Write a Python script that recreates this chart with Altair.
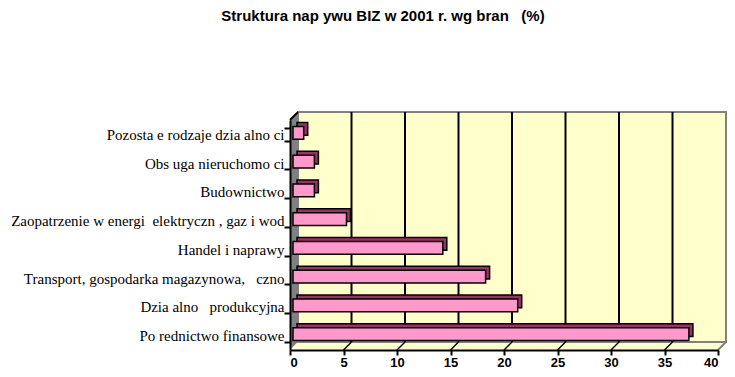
import altair as alt
import pandas as pd

NB = "\u00a0"
title_text = f"Struktura nap{NB}ywu BIZ w 2001 r. wg bran{NB}{NB}{NB}(%)"
categories = [
    f"Pozosta{NB}e rodzaje dzia{NB}alno{NB}ci",
    f"Obs{NB}uga nieruchomo{NB}ci",
    "Budownictwo",
    f"Zaopatrzenie w energi{NB}{NB}elektryczn{NB}, gaz i wod",
    "Handel i naprawy",
    f"Transport, gospodarka magazynowa,{NB}{NB}{NB}czno{NB}{NB}",
    f"Dzia{NB}alno{NB}{NB}{NB}produkcyjna",
    f"Po{NB}rednictwo finansowe",
]
values = [1, 2, 2, 5, 14, 18, 21, 37]
x_ticks = [0, 5, 10, 15, 20, 25, 30, 35, 40]
grid_values = [5, 10, 15, 20, 25, 30, 35]

# geometry of the pseudo-3D box (pixels)
W, H = 428, 230
DX, DY = 8, -8
BDX, BDY = 4, -4
FX, FY = 3, -1.5

bars_df = pd.DataFrame({"cat": categories, "val": values})
grid_df = pd.DataFrame({"v": grid_values})
edge_df = pd.DataFrame({"v": [40]})
one = pd.DataFrame({"a": [0]})

xscale = alt.Scale(domain=[0, 40], nice=False, zero=True)
yscale = alt.Scale(domain=categories, paddingInner=0.56, paddingOuter=0.28)

side_df = pd.DataFrame({"px": [0, DX], "top": [0, DY], "bot": [H, H + DY]})
side = alt.Chart(side_df).mark_area(color="#808080").encode(
    x=alt.X("px:Q", scale=None, axis=None),
    y=alt.Y("top:Q", scale=None, axis=None),
    y2="bot:Q",
)

floor_df = pd.DataFrame({"py": [H + DY, H], "xl": [DX, 0], "xr": [W + DX, W]})
floor = alt.Chart(floor_df).mark_area(color="#FFFFCC", orient="horizontal").encode(
    y=alt.Y("py:Q", scale=None, axis=None),
    x=alt.X("xl:Q", scale=None, axis=None),
    x2="xr:Q",
)

back = alt.Chart(one).mark_rect(fill="#FFFFCC", stroke="#808080", strokeWidth=2).encode(
    x=alt.value(DX), x2=alt.value(W + DX), y=alt.value(DY), y2=alt.value(H + DY)
)

grid = alt.Chart(grid_df).mark_rule(color="black", strokeWidth=2, xOffset=DX).encode(
    x=alt.X("v:Q", scale=xscale, axis=None),
    y=alt.value(DY),
    y2=alt.value(H + DY),
)

diag = alt.Chart(grid_df).mark_rule(color="black", strokeWidth=1.5, x2Offset=DX).encode(
    x=alt.X("v:Q", scale=xscale, axis=None),
    x2="v:Q",
    y=alt.value(H),
    y2=alt.value(H + DY),
)

edge = alt.Chart(edge_df).mark_rule(color="#808080", strokeWidth=2, x2Offset=DX).encode(
    x=alt.X("v:Q", scale=xscale, axis=None),
    x2="v:Q",
    y=alt.value(H),
    y2=alt.value(H + DY),
)

topdiag = alt.Chart(one).mark_rule(color="black", strokeWidth=2).encode(
    x=alt.value(0), x2=alt.value(DX), y=alt.value(0), y2=alt.value(DY)
)

bars_back = alt.Chart(bars_df).mark_bar(
    color="#993366", stroke="black", strokeWidth=1.5,
    xOffset=FX + BDX, x2Offset=FX + BDX, yOffset=FY + BDY, y2Offset=FY + BDY,
).encode(
    x=alt.X("val:Q", scale=xscale, axis=None),
    y=alt.Y("cat:N", scale=yscale, sort=categories, axis=None),
)

bars_front = alt.Chart(bars_df).mark_bar(
    color="#FF99CC", stroke="black", strokeWidth=1.5,
    xOffset=FX, x2Offset=FX, yOffset=FY, y2Offset=FY,
).encode(
    x=alt.X("val:Q", scale=xscale, axis=alt.Axis(
        values=x_ticks, grid=False, title=None, domainColor="black", domainWidth=2,
        tickColor="black", tickWidth=2, tickSize=5, labelFont="Liberation Sans",
        labelFontWeight="bold", labelFontSize=13, labelColor="black", labelPadding=1,
        zindex=1)),
    y=alt.Y("cat:N", scale=yscale, sort=categories, axis=alt.Axis(
        title=None, domainColor="black", domainWidth=2, tickColor="black", tickWidth=2,
        tickSize=6, tickBand="extent", labelFont="Liberation Serif", labelFontSize=15,
        labelColor="black", labelPadding=0, labelLimit=500, zindex=1)),
)

title = alt.Chart(one).mark_text(
    text=title_text, font="Liberation Sans", fontWeight="bold", fontSize=15,
    align="center", baseline="alphabetic", color="black",
).encode(x=alt.value(93), y=alt.value(-99))

chart = alt.layer(
    side, floor, back, grid, diag, edge, topdiag, bars_back, bars_front, title
).resolve_scale(x="independent", y="independent").properties(
    width=W, height=H,
    autosize=alt.AutoSizeParams(type="none"),
    padding={"left": 282, "top": 112, "right": 9, "bottom": 19},
    background="white",
).configure_view(stroke=None)

chart.save("out.html", embed_options={"renderer": "svg", "actions": False})
